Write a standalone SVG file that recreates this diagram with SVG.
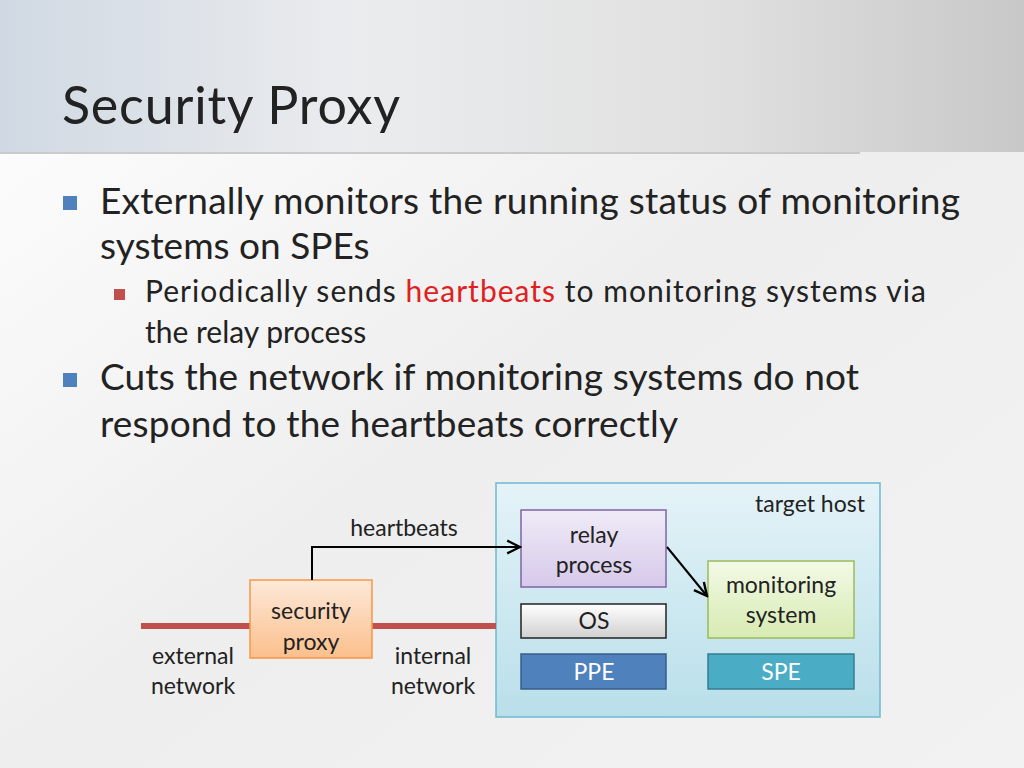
<svg xmlns="http://www.w3.org/2000/svg" width="1024" height="768" viewBox="0 0 1024 768">
<defs>
<linearGradient id="bg" x1="0" y1="0" x2="1" y2="1"><stop offset="0" stop-color="#ffffff"/><stop offset="0.5" stop-color="#eeeeee"/><stop offset="1" stop-color="#f2f2f2"/></linearGradient>
<linearGradient id="hdr" x1="0" y1="0" x2="1" y2="0"><stop offset="0" stop-color="#d0d9e3"/><stop offset="0.35" stop-color="#ebecee"/><stop offset="0.7" stop-color="#e0e0e0"/><stop offset="1" stop-color="#c8c8c8"/></linearGradient>
<linearGradient id="host" x1="0" y1="0" x2="0" y2="1"><stop offset="0" stop-color="#e4f3f8"/><stop offset="1" stop-color="#b9dfea"/></linearGradient>
<linearGradient id="relay" x1="0" y1="0" x2="0" y2="1"><stop offset="0" stop-color="#f0ebf7"/><stop offset="1" stop-color="#d6c9ea"/></linearGradient>
<linearGradient id="mon" x1="0" y1="0" x2="0" y2="1"><stop offset="0" stop-color="#f3f9e6"/><stop offset="1" stop-color="#d7ebb2"/></linearGradient>
<linearGradient id="proxy" x1="0" y1="0" x2="0" y2="1"><stop offset="0" stop-color="#fde9d9"/><stop offset="1" stop-color="#fbbf8c"/></linearGradient>
<linearGradient id="os" x1="0" y1="0" x2="0" y2="1"><stop offset="0" stop-color="#ffffff"/><stop offset="1" stop-color="#d0d0d0"/></linearGradient>
<marker id="ah" viewBox="0 0 10 10" refX="9" refY="5" markerWidth="8" markerHeight="8" orient="auto"><path d="M1,1 L9,5 L1,9" fill="none" stroke="#000" stroke-width="1.5"/></marker>
<style>
text{font-family:Lato,"Open Sans","Liberation Sans",sans-serif;fill:#222}
.b{font-size:37px}.s{font-size:30px}.n{font-size:23px;text-anchor:middle}
.w{fill:#fff}
</style>
</defs>
<rect width="1024" height="768" fill="url(#bg)"/>
<rect width="1024" height="152" fill="url(#hdr)"/>
<line x1="0" y1="153" x2="860" y2="153" stroke="#bbbbbb" stroke-width="1.5"/>
<text x="62" y="124" style="font-size:52px" fill="#333" textLength="338">Security Proxy</text>
<rect x="63" y="196" width="14" height="14" fill="#4f81bd"/>
<text class="b" x="100" y="214" textLength="860">Externally monitors the running status of monitoring</text>
<text class="b" x="100" y="259">systems on SPEs</text>
<rect x="114" y="289" width="11" height="11" fill="#c0504d"/>
<text class="s" x="145" y="302" textLength="781">Periodically sends <tspan fill="#e02020">heartbeats</tspan> to monitoring systems via</text>
<text class="s" x="145" y="343">the relay process</text>
<rect x="63" y="373" width="14" height="14" fill="#4f81bd"/>
<text class="b" x="100" y="390" textLength="759">Cuts the network if monitoring systems do not</text>
<text class="b" x="100" y="437" textLength="578">respond to the heartbeats correctly</text>
<g id="host-g"><rect x="496" y="483" width="384" height="234" fill="url(#host)" stroke="#6fb8cf" stroke-width="1.5"/><text class="n" x="810" y="512">target host</text></g>
<g id="net"><line x1="141" y1="626" x2="496" y2="626" stroke="#c0504d" stroke-width="6"/></g>
<g id="proxy-g"><rect x="250" y="580" width="122" height="78" fill="url(#proxy)" stroke="#f79646" stroke-width="1.5"/><text class="n" x="311" y="619">security</text><text class="n" x="311" y="650">proxy</text></g>
<text class="n" x="193" y="664">external</text><text class="n" x="193" y="694">network</text>
<text class="n" x="433" y="664">internal</text><text class="n" x="433" y="694">network</text>
<g id="relay-g"><rect x="521" y="510" width="145" height="77" fill="url(#relay)" stroke="#8064a2" stroke-width="1.5"/><text class="n" x="594" y="543">relay</text><text class="n" x="594" y="573">process</text></g>
<g id="os-g"><rect x="521" y="604" width="145" height="34" fill="url(#os)" stroke="#222" stroke-width="1.5"/><text class="n" x="594" y="629">OS</text></g>
<g id="ppe-g"><rect x="521" y="654" width="145" height="35" fill="#4f81bd" stroke="#385d8a" stroke-width="1.5"/><text class="n w" x="594" y="680">PPE</text></g>
<g id="mon-g"><rect x="708" y="561" width="146" height="77" fill="url(#mon)" stroke="#9bbb59" stroke-width="1.5"/><text class="n" x="781" y="593">monitoring</text><text class="n" x="781" y="623">system</text></g>
<g id="spe-g"><rect x="708" y="654" width="146" height="35" fill="#4bacc6" stroke="#357d91" stroke-width="1.5"/><text class="n w" x="781" y="680">SPE</text></g>
<g id="connectors" fill="none" stroke="#000" stroke-width="2">
<path d="M312,580 V547 H520" marker-end="url(#ah)"/>
<path d="M667,547 L707,596" marker-end="url(#ah)"/>
</g>
<text class="n" x="404" y="536">heartbeats</text>
</svg>
